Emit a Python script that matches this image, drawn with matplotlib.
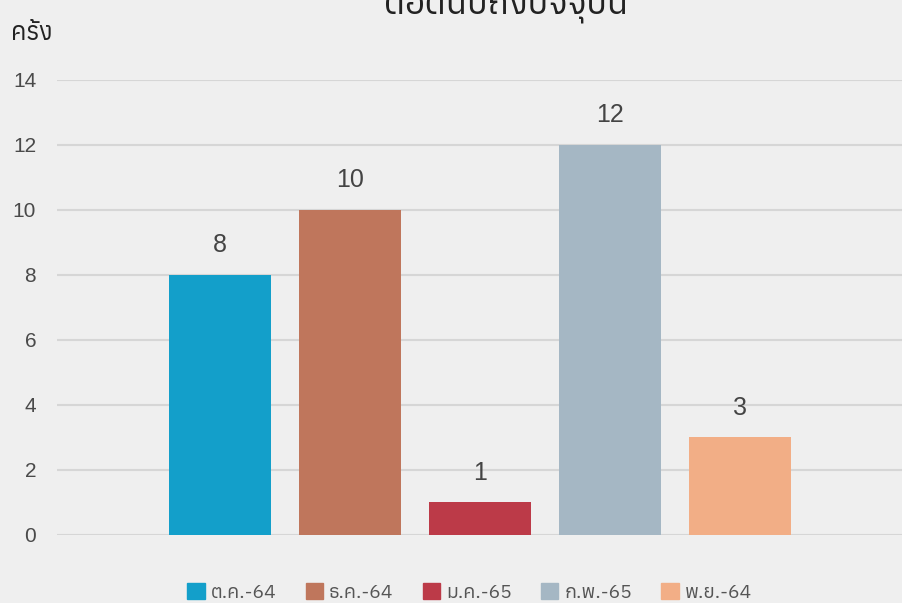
import matplotlib
matplotlib.use('Agg')
import matplotlib.pyplot as plt
from matplotlib import font_manager
from fontTools.ttLib import TTFont

categories = ['ต.ค.-64', 'ธ.ค.-64', 'ม.ค.-65', 'ก.พ.-65', 'พ.ย.-64']
values = [8, 10, 1, 12, 3]
colors = ['#139fca', '#bf765c', '#bc3a48', '#a5b7c4', '#f2ae86']
yticks = [0, 2, 4, 6, 8, 10, 12, 14]

# find a font that has Thai glyphs
thai_fonts = []
for f in font_manager.fontManager.ttflist:
    try:
        cmap = TTFont(f.fname, fontNumber=0, lazy=True).getBestCmap()
        if cmap and ord('ค') in cmap:
            thai_fonts.append(f.name)
    except Exception:
        pass
families = sorted(set(thai_fonts))[:1] + ['DejaVu Sans']
plt.rcParams['font.family'] = families
num_font = ['Liberation Sans', 'DejaVu Sans']

fig = plt.figure(figsize=(9.03, 6.03), dpi=100, facecolor='#efefef')
ax = fig.add_axes([0.0631, 0.1128, 0.9369, 0.7546])
ax.set_facecolor('none')

x = range(len(categories))
ax.bar(x, values, width=0.79, color=colors, zorder=3)
for xi, v in zip(x, values):
    ax.text(xi, v + 0.55, str(v), ha='center', va='bottom', fontsize=18,
            color='#444444', family=num_font)

ax.set_xlim(-1.254, 5.254)
ax.set_ylim(0, 14)
ax.set_yticks(yticks)
ax.set_yticklabels([str(t) for t in yticks], family=num_font)
ax.set_xticks([])
ax.grid(axis='y', color='#d6d6d6', linewidth=1.5, zorder=0)
for s in ax.spines.values():
    s.set_visible(False)
ax.tick_params(axis='y', length=0, labelsize=15, labelcolor='#4a4a4a', pad=15)

handles = [plt.Rectangle((0, 0), 1, 1, color=c) for c in colors]
fig.legend(handles, categories, loc='center', bbox_to_anchor=(0.52, 0.018), ncol=5,
           frameon=False, fontsize=14, labelcolor='#555555', handlelength=0.9,
           handleheight=0.9, handletextpad=0.3, columnspacing=1.5)

fig.text(0.012, 0.925, 'ครั้ง', fontsize=18, color='#222222', ha='left', va='bottom')
fig.text(0.56, 0.962, 'ต่อต้นปีถึงปัจจุบัน', fontsize=25, color='#222222', ha='center', va='bottom')

fig.savefig('out.png', dpi=100, facecolor=fig.get_facecolor())
